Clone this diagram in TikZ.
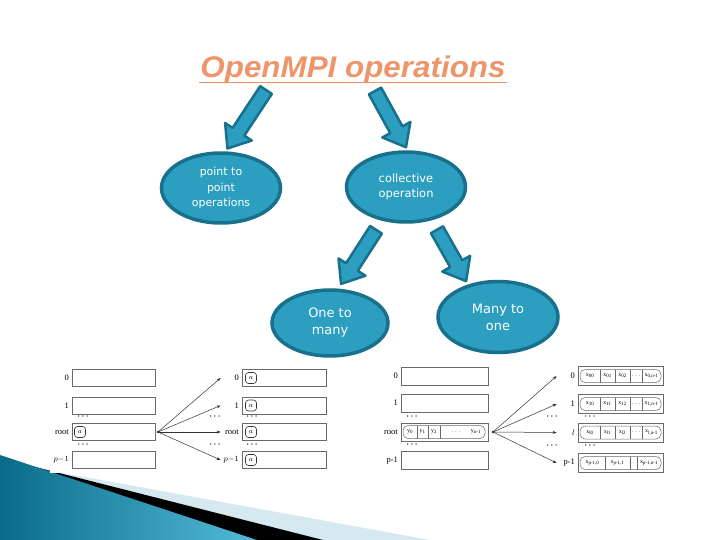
\documentclass[tikz,border=0pt]{standalone}
\usepackage{graphicx}
\usepackage{fontspec}
\setmainfont{Liberation Serif}
\newfontfamily\titlefont{Liberation Sans}
\newfontfamily\bubblefont{DejaVu Sans}
\usetikzlibrary{shapes.geometric,calc,arrows.meta}

\definecolor{bubble}{RGB}{44,158,192}
\definecolor{bubbleline}{RGB}{24,112,140}
\definecolor{titleorange}{RGB}{238,149,107}
\definecolor{decoteal}{RGB}{10,108,138}
\definecolor{decotealb}{RGB}{82,186,216}
\definecolor{decolight}{RGB}{214,233,240}
\definecolor{boxline}{RGB}{105,105,105}

\tikzset{
  bubblenode/.style={ellipse, draw=bubbleline, line width=3.5bp, fill=bubble, text=white, align=center, inner sep=0pt},
  blockarrow/.style={draw=bubbleline, line width=2.5bp, fill=bubble, line join=round},
  cell/.style={draw=boxline, line width=0.7bp, fill=white, inner sep=0pt, minimum height=17bp},
  lbl/.style={font=\fontsize{8.5}{10}\selectfont, inner sep=1bp, text width=17bp, align=right, anchor=east},
  dots/.style={font=\fontsize{8.5}{9}\selectfont\boldmath, inner sep=0pt},
  rnd/.style={draw=black!80, rounded corners=3bp, line width=0.6bp, minimum size=11bp, inner sep=0pt, font=\fontsize{7}{8}\selectfont},
  inbox/.style={draw=boxline, line width=0.5bp},
  tiny/.style={font=\fontsize{6}{7}\selectfont, inner sep=0pt},
  bc/.style={-{Stealth[length=4bp,width=3bp]}, line width=0.5bp, black!80}
}

% block arrow: name, tail, tip
\newcommand{\blockarr}[3]{%
  \coordinate (#1-h) at ($(#3)!20bp!(#2)$);
  \draw[blockarrow] ($(#2)!7bp!90:(#3)$) -- ($(#1-h)!7bp!90:(#3)$) -- ($(#1-h)!16bp!90:(#3)$) -- (#3)
    -- ($(#1-h)!16bp!-90:(#3)$) -- ($(#1-h)!7bp!-90:(#3)$) -- ($(#2)!7bp!-90:(#3)$) -- cycle;
}
\newcommand{\xs}[1]{x\textsubscript{#1}}

\begin{document}
\begin{tikzpicture}[x=1bp, y=-1bp]
    \useasboundingbox (0,0) rectangle (720,540);

    % corner decoration
    \fill[decolight] (0,461.5) -- (430,540) -- (0,540) -- cycle;
    \fill[black] (0,458) -- (323,540) -- (0,540) -- cycle;
    \shade[left color=decoteal, right color=decotealb] (0,455) -- (257,540) -- (0,540) -- cycle;
    \fill[white] (50,355) rectangle (690,473);

    % title and bubbles
    \node[font=\titlefont\bfseries\itshape\fontsize{30}{36}\selectfont, text=titleorange, anchor=base, inner sep=1bp] (title) at (353,78) {\scalebox{1.05}[1]{OpenMPI operations}};
    \draw[titleorange, line width=1.6bp] ($(title.base west)+(0,4.5)$) -- ($(title.base east)+(0,4.5)$);

    \node[bubblenode, minimum width=119bp, minimum height=70bp, font=\bubblefont\fontsize{11}{15.5}\selectfont] (ptp) at (221,188) {point to\\point\\operations};
    \node[bubblenode, minimum width=119bp, minimum height=70bp, font=\bubblefont\fontsize{11.5}{15.5}\selectfont] (coll) at (406,187) {collective\\operation};
    \node[bubblenode, minimum width=116bp, minimum height=66bp, font=\bubblefont\fontsize{13}{17}\selectfont] (otm) at (330,323) {One to\\many};
    \node[bubblenode, minimum width=120bp, minimum height=71bp, font=\bubblefont\fontsize{13}{17}\selectfont] (mto) at (498,317) {Many to\\one};

    \coordinate (a1-t) at ($(title.base)+(-87,12)$);
    \coordinate (a1-p) at ($(ptp.80)+(0,-3)$);
    \coordinate (a2-t) at ($(title.base)+(22,13)$);
    \coordinate (a2-p) at ($(coll.north)+(0,-3)$);
    \coordinate (a3-t) at ($(coll.south)+(-30,6)$);
    \coordinate (a3-p) at ($(otm.72)+(0,-5)$);
    \coordinate (a4-t) at ($(coll.south)+(31,6)$);
    \coordinate (a4-p) at ($(mto.135)+(0,-4)$);
    \blockarr{a1}{a1-t}{a1-p}
    \blockarr{a2}{a2-t}{a2-p}
    \blockarr{a3}{a3-t}{a3-p}
    \blockarr{a4}{a4-t}{a4-p}

    % one to many
    \foreach \r/\y/\lab in {0/378/0, 1/405.5/1, r/432/root, p/460/$p{-}1$} {
        \node[lbl] (b-l\r) at (70,\y) {\lab};
        \node[cell, minimum width=83bp] (b-s\r) at (113.5,\y) {};
        \node[lbl] (b-m\r) at (240,\y) {\lab};
        \node[cell, minimum width=84bp] (b-d\r) at (284,\y) {};
        \node[rnd] (b-a\r) at (251,\y) {$a$};
    }
    \node[rnd] (b-root) at (80,432) {$a$};
    \node[dots] (b-e1) at (83,417) {$\cdots$};
    \node[dots] (b-e2) at (83,445) {$\cdots$};
    \node[dots] (b-e3) at (215,417) {$\cdots$};
    \node[dots] (b-e4) at (215,445) {$\cdots$};
    \node[dots] (b-e5) at (252,417) {$\cdots$};
    \node[dots] (b-e6) at (252,445) {$\cdots$};
    \coordinate (b-src) at (158,432);
    \fill[black!80] (b-src) circle (1.3bp);
    \foreach \r in {0,1,r,p} \draw[bc] (b-src) -- (b-m\r.west);

    % many to one
    \foreach \r/\y/\lab in {0/376/0, 1/403/1, r/432/root, p/460.5/p-1}
        \node[lbl] (s-l\r) at (399,\y) {\lab};
    \foreach \r/\y in {0/376, 1/403, r/432, p/460.5}
        \node[cell, minimum width=87bp, minimum height=18bp] (s-s\r) at (444.5,\y) {};
    \foreach \r/\y/\lab in {0/376/0, 1/404/1, l/432.5/$l$, p/463/p-1} {
        \node[lbl] (s-m\r) at (576,\y) {\lab};
        \node[cell, minimum width=85bp, minimum height=19bp] (s-d\r) at (620.5,\y) {};
        \draw[inbox, rounded corners=5bp] (580,\y-6.5) rectangle (661,\y+6.5);
    }
    \draw[inbox, rounded corners=5bp] (403,425.5) rectangle (485,438.5);
    \foreach \d in {417,428,440} \draw[inbox] (\d,425.5) -- (\d,438.5);
    \node[tiny] (s-y0) at (410,432) {y\textsubscript{0}};
    \node[tiny] (s-y1) at (422.5,432) {y\textsubscript{1}};
    \node[tiny] (s-y2) at (434,432) {y\textsubscript{2}};
    \node[tiny] (s-yd) at (456,432) {$\cdots$};
    \node[tiny] (s-yn) at (476,432) {y\textsubscript{n-1}};

    \foreach \r/\y/\i in {0/376/0, 1/404/1, l/432.5/l} {
        \foreach \d in {600,615,630,642} \draw[inbox] (\d,\y-6.5) -- (\d,\y+6.5);
        \node[tiny] (s-x\r-0) at (590,\y) {\xs{\i0}};
        \node[tiny] (s-x\r-1) at (607.5,\y) {\xs{\i1}};
        \node[tiny] (s-x\r-2) at (622.5,\y) {\xs{\i2}};
        \node[tiny] (s-x\r-d) at (636,\y) {$\cdots$};
        \node[tiny] (s-x\r-n) at (651.5,\y) {\xs{\i,n-1}};
    }
    \foreach \d in {605,630,637} \draw[inbox] (\d,456.5) -- (\d,469.5);
    \node[tiny] (s-xp-0) at (592.5,463) {\xs{p-1,0}};
    \node[tiny] (s-xp-1) at (617.5,463) {\xs{p-1,1}};
    \node[tiny, font=\fontsize{4}{5}\selectfont] (s-xp-d) at (633.5,463) {$\cdots$};
    \node[tiny] (s-xp-n) at (649,463) {\xs{p-1,n-1}};

    \node[dots] (s-e1) at (412,417) {$\cdots$};
    \node[dots] (s-e2) at (412,445) {$\cdots$};
    \node[dots] (s-e3) at (552,417) {$\cdots$};
    \node[dots] (s-e4) at (552,446) {$\cdots$};
    \node[dots] (s-e5) at (590,417) {$\cdots$};
    \node[dots] (s-e6) at (590,446) {$\cdots$};
    \coordinate (s-src) at (493,432);
    \fill[black!80] (s-src) circle (1.3bp);
    \foreach \r in {0,1,l,p} \draw[bc] (s-src) -- (s-m\r.west);
\end{tikzpicture}
\end{document}
